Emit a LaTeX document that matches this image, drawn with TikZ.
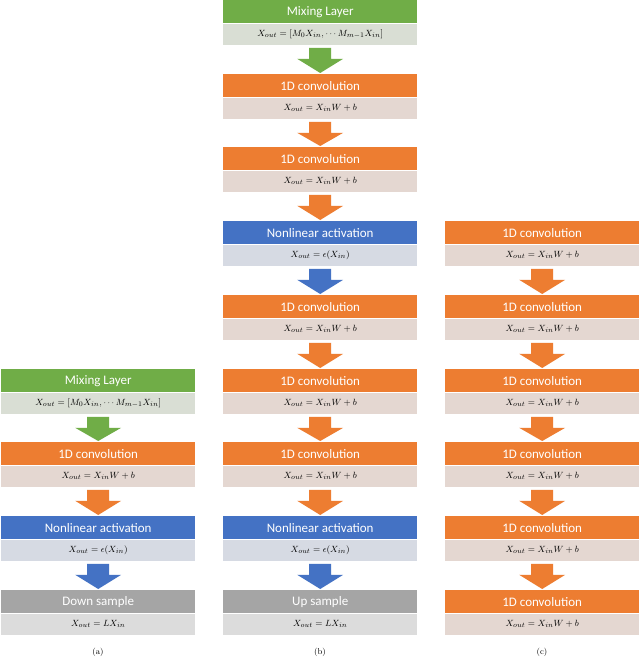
\documentclass[tikz,border=0pt]{standalone}
\usepackage{fontspec}
\newfontfamily\hdr{Carlito}
\usetikzlibrary{calc}
\definecolor{cg}{HTML}{70AD47}\definecolor{lg}{HTML}{D9DED4}
\definecolor{co}{HTML}{ED7D31}\definecolor{lo}{HTML}{E4D7D1}
\definecolor{cb}{HTML}{4472C4}\definecolor{lb}{HTML}{D6DAE3}
\definecolor{cy}{HTML}{A5A5A5}\definecolor{ly}{HTML}{DCDCDC}
\tikzset{hd/.style={anchor=north west,inner sep=0,minimum width=194pt,minimum height=23pt,text=white,font=\hdr\fontsize{13}{14}\selectfont},
fm/.style={anchor=north west,inner sep=0,minimum width=194pt,minimum height=21pt,font=\fontsize{9.5}{10}\selectfont},
captxt/.style={font=\fontsize{8.5}{10}\selectfont}}
% name x y color light title formula
\newcommand\blk[7]{%
\node[hd,fill=#4] (#1h) at (#2,#3) {#6};
\node[fm,fill=#5] (#1) at (#1h.south west) {$#7$};}
\newcommand\arr[3]{%
\fill[#3] ($(#1.south)+(-11,3)$) -- ($(#1.south)+(11,3)$) -- ($(#1.south)+(11,14)$) -- ($(#1.south)+(23,14)$) -- ($(#2.north)+(0,-1)$) -- ($(#1.south)+(-23,14)$) -- ($(#1.south)+(-11,14)$) -- cycle;}
\def\conv{1D convolution}\def\cf{X_{out}=X_{in}W+b}
\def\mix{X_{out}=[M_0X_{in},\cdots M_{m-1}X_{in}]}
\def\nla{Nonlinear activation}\def\nf{X_{out}=\epsilon(X_{in})}
\begin{document}
\begin{tikzpicture}[x=1pt,y=-1pt]
\useasboundingbox[fill=white] (0,0) rectangle (640,660);
% column b
\blk{b1}{223}{0}{cg}{lg}{Mixing Layer}{\mix}
\blk{b2}{223}{74}{co}{lo}{\conv}{\cf}
\blk{b3}{223}{147}{co}{lo}{\conv}{\cf}
\blk{b4}{223}{221}{cb}{lb}{\nla}{\nf}
\blk{b5}{223}{295}{co}{lo}{\conv}{\cf}
\blk{b6}{223}{369}{co}{lo}{\conv}{\cf}
\blk{b7}{223}{442}{co}{lo}{\conv}{\cf}
\blk{b8}{223}{516}{cb}{lb}{\nla}{\nf}
\blk{b9}{223}{590}{cy}{ly}{Up sample}{X_{out}=LX_{in}}
\arr{b1}{b2h}{cg}\arr{b2}{b3h}{co}\arr{b3}{b4h}{co}\arr{b4}{b5h}{cb}
\arr{b5}{b6h}{co}\arr{b6}{b7h}{co}\arr{b7}{b8h}{co}\arr{b8}{b9h}{cb}
% column a
\blk{a1}{1}{369}{cg}{lg}{Mixing Layer}{\mix}
\blk{a2}{1}{442}{co}{lo}{\conv}{\cf}
\blk{a3}{1}{516}{cb}{lb}{\nla}{\nf}
\blk{a4}{1}{590}{cy}{ly}{Down sample}{X_{out}=LX_{in}}
\arr{a1}{a2h}{cg}\arr{a2}{a3h}{co}\arr{a3}{a4h}{cb}
% column c
\blk{c1}{445}{221}{co}{lo}{\conv}{\cf}
\blk{c2}{445}{295}{co}{lo}{\conv}{\cf}
\blk{c3}{445}{369}{co}{lo}{\conv}{\cf}
\blk{c4}{445}{442}{co}{lo}{\conv}{\cf}
\blk{c5}{445}{516}{co}{lo}{\conv}{\cf}
\blk{c6}{445}{590}{co}{lo}{\conv}{\cf}
\arr{c1}{c2h}{co}\arr{c2}{c3h}{co}\arr{c3}{c4h}{co}\arr{c4}{c5h}{co}\arr{c5}{c6h}{co}
\node[captxt] (ca) at (98,652) {(a)};
\node[captxt] (cb) at (320,652) {(b)};
\node[captxt] (cc) at (542,652) {(c)};
\end{tikzpicture}
\end{document}
